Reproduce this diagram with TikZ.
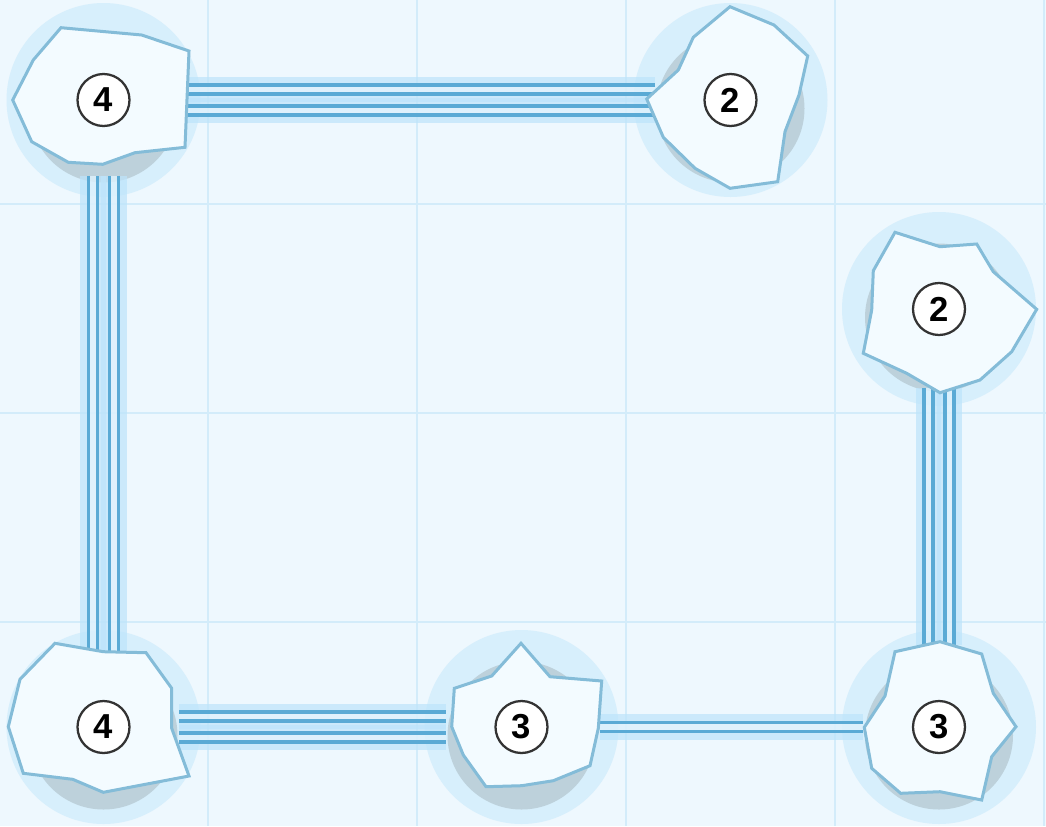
\documentclass[tikz,border=0pt]{standalone}
\usepackage{fontspec}
\setmainfont{Liberation Sans}
\usetikzlibrary{calc}
\definecolor{bg}{HTML}{EEF8FE}
\definecolor{gridc}{HTML}{D3ECFA}
\definecolor{halo}{HTML}{D7EFFC}
\definecolor{shade}{HTML}{BDD1DB}
\definecolor{isle}{HTML}{F3FBFF}
\definecolor{isledge}{HTML}{84BCD8}
\definecolor{railc}{HTML}{5AAAD5}
\definecolor{glowc}{HTML}{BDE4FB}
\definecolor{numedge}{HTML}{333333}
\tikzset{
  gridline/.style={draw=gridc,line width=1.2pt},
  halobg/.style={fill=halo},
  shadowdisc/.style={fill=shade},
  island/.style={draw=isledge,fill=isle,line width=2.25pt,line join=miter},
  numcircle/.style={circle,draw=numedge,fill=white,line width=1.7pt,minimum size=39pt,inner sep=0pt,font=\fontsize{26}{26}\selectfont\bfseries},
  glowband/.style={draw=glowc,line width=19pt,draw opacity=0.7},
  innerband/.style={draw=white,line width=4.5pt,draw opacity=0.4},
  railline/.style={draw=railc,line width=2.5pt}
}
\newcommand\hbridge[3]{%
  \draw[glowband,transform canvas={yshift=#3}] (#1) -- (#2);
  \draw[innerband,transform canvas={yshift=#3}] (#1) -- (#2);
  \draw[railline,transform canvas={yshift=#3+3.375pt}] (#1) -- (#2);
  \draw[railline,transform canvas={yshift=#3-3.375pt}] (#1) -- (#2);}
\newcommand\vbridge[3]{%
  \draw[glowband,transform canvas={xshift=#3}] (#1) -- (#2);
  \draw[innerband,transform canvas={xshift=#3}] (#1) -- (#2);
  \draw[railline,transform canvas={xshift=#3+3.375pt}] (#1) -- (#2);
  \draw[railline,transform canvas={xshift=#3-3.375pt}] (#1) -- (#2);}
\begin{document}
\begin{tikzpicture}[x=0.75pt,y=-0.75pt]
\fill[bg] (0,0) rectangle (1046,826);
\useasboundingbox (0,0) rectangle (1046,826);
% grid
\foreach \gx in {208,417,626,835,1044} \draw[gridline] (\gx,0) -- (\gx,826);
\foreach \gy in {204,413,622} \draw[gridline] (0,\gy) -- (1046,\gy);
% island centres
\coordinate (A) at (103.5,100);
\coordinate (B) at (730.5,100);
\coordinate (C) at (939,309);
\coordinate (D) at (103.5,727);
\coordinate (E) at (521.5,727);
\coordinate (F) at (939,727);
% halos
\foreach \c in {A,B,C,D,E,F} \fill[halobg] (\c) circle[radius=72.75pt];
% shadows
\foreach \c in {A,B,C,D,E,F} \fill[shadowdisc] ($(\c)+(0,8.5)$) circle[radius=55.5pt];
% bridge end points
\coordinate (A1) at (187,100);   \coordinate (B1) at (655,100);
\coordinate (A2) at (103.5,176); \coordinate (D1) at (103.5,652);
\coordinate (C1) at (939,388);   \coordinate (F1) at (939,645);
\coordinate (D2) at (179,727);   \coordinate (E1) at (446,727);
\coordinate (E2) at (600,727);   \coordinate (F2) at (863,727);
% bridges
\hbridge{A1}{B1}{7.875pt}\hbridge{A1}{B1}{-7.875pt}
\vbridge{A2}{D1}{7.875pt}\vbridge{A2}{D1}{-7.875pt}
\vbridge{C1}{F1}{7.875pt}\vbridge{C1}{F1}{-7.875pt}
\hbridge{D2}{E1}{7.875pt}\hbridge{D2}{E1}{-7.875pt}
\hbridge{E2}{F2}{0pt}
% islands
\draw[island] (61,27.7) -- (141.7,35) -- (189,51) -- (185,147.3) -- (135,152.7) -- (102.7,164.3) -- (68.3,162.3) -- (31.7,141.7) -- (12.7,100) -- (33.3,60) -- cycle;
\draw[island] (730,6.7) -- (774,25) -- (807.7,56) -- (799,95) -- (785,131.7) -- (777.7,181.7) -- (730,188.3) -- (695,168.3) -- (663.3,137.3) -- (646.7,99) -- (678.3,70) -- (693.3,37.3) -- cycle;
\draw[island] (895,232.3) -- (940,246.7) -- (976.7,244) -- (993.3,271.7) -- (1036.7,309.3) -- (1011.7,351.7) -- (980,380) -- (940,392.7) -- (906.7,373.3) -- (863.3,353.3) -- (871.7,310) -- (873.3,270.7) -- cycle;
\draw[island] (55,643.3) -- (103.3,651.7) -- (146,652.7) -- (171.7,688.3) -- (171.7,728.3) -- (189,776) -- (103.3,792.3) -- (72.7,779.3) -- (23.3,773.3) -- (8.3,726.7) -- (20,679.3) -- cycle;
\draw[island] (521,643.3) -- (550,676.7) -- (601.7,681) -- (598.3,728.3) -- (590,765.7) -- (553.3,780.7) -- (521.7,785.7) -- (486,786.7) -- (463.3,755) -- (451.7,726.7) -- (454.3,688.3) -- (491.7,676) -- cycle;
\draw[island] (940,641.7) -- (981.7,654) -- (993.3,693.3) -- (1016,726.7) -- (991.7,756.7) -- (981.7,800) -- (940,791.7) -- (900.7,793.3) -- (871.7,768.3) -- (864.3,727.3) -- (885,696) -- (895,651.7) -- cycle;
% numbers
\node[numcircle] (nA) at (A) {4};
\node[numcircle] (nB) at (B) {2};
\node[numcircle] (nC) at (C) {2};
\node[numcircle] (nD) at (D) {4};
\node[numcircle] (nE) at (E) {3};
\node[numcircle] (nF) at (F) {3};
\end{tikzpicture}
\end{document}
